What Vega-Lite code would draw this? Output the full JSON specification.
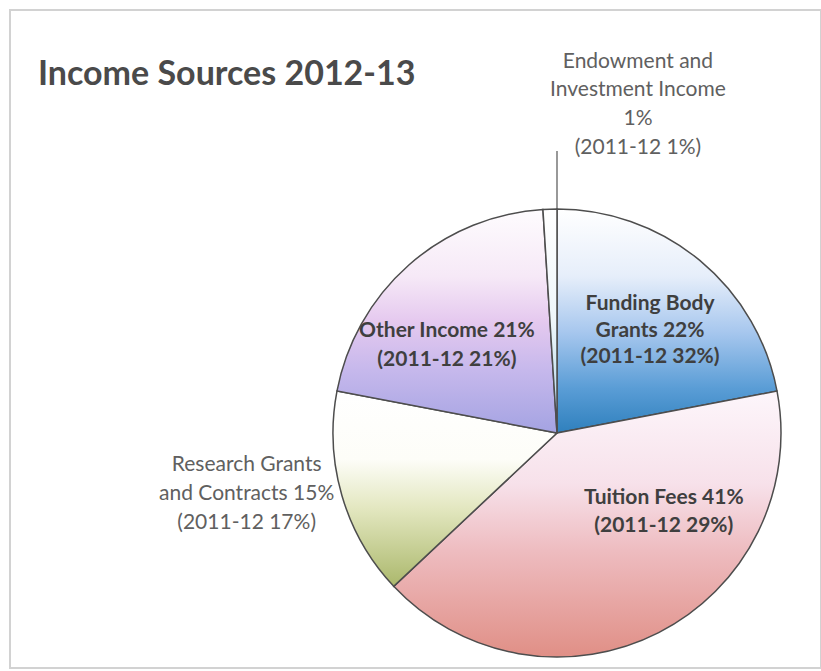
{
  "$schema": "https://vega.github.io/schema/vega-lite/v6.json",
  "width": 811,
  "height": 658,
  "autosize": {"type": "none"},
  "padding": {"left": 10, "top": 10, "right": 0, "bottom": 3},
  "background": "white",
  "view": {"stroke": "#d2d2d2", "strokeWidth": 2},
  "config": {"view": {"stroke": "#d2d2d2", "strokeWidth": 2}, "font": "Lato"},
  "title": {"text": "Income Sources 2012-13", "anchor": "start", "frame": "group", "orient": "top", "offset": -109, "dx": 28, "baseline": "alphabetic", "font": "Lato", "fontSize": 34, "fontWeight": "bold", "color": "#4a4a4a"},
  "data": {"values": [
    {"source": "Funding Body Grants", "pct": 22, "prev": 32, "order": 1, "label": "Funding Body\nGrants 22%\n(2011-12 32%)"},
    {"source": "Tuition Fees", "pct": 41, "prev": 29, "order": 2, "label": "Tuition Fees 41%\n(2011-12 29%)"},
    {"source": "Research Grants and Contracts", "pct": 15, "prev": 17, "order": 3, "label": "Research Grants\nand Contracts 15%\n(2011-12 17%)"},
    {"source": "Other Income", "pct": 21, "prev": 21, "order": 4, "label": "Other Income 21%\n(2011-12 21%)"},
    {"source": "Endowment and Investment Income", "pct": 1, "prev": 1, "order": 5, "label": "Endowment and\nInvestment Income\n1%\n(2011-12 1%)"}
  ]},
  "transform": [{"stack": "pct", "groupby": [], "sort": [{"field": "order"}], "as": ["start", "end"]}],
  "layer": [
    {
      "transform": [{"filter": "datum.source === 'Funding Body Grants'"}],
      "mark": {"type": "arc", "radius": 224, "xOffset": 141.5, "yOffset": 94, "stroke": "#4d4d4d", "strokeWidth": 1.5,
        "fill": {"gradient": "linear", "x1": 0, "y1": 0, "x2": 0, "y2": 1, "stops": [
          {"offset": 0, "color": "#ffffff"}, {"offset": 0.3, "color": "#e6eefa"}, {"offset": 0.55, "color": "#a7c7ee"}, {"offset": 0.8, "color": "#5a9dd6"}, {"offset": 1, "color": "#2f80bd"}]}},
      "encoding": {"theta": {"field": "start", "type": "quantitative", "scale": {"domain": [0, 100]}}, "theta2": {"field": "end"}}
    },
    {
      "transform": [{"filter": "datum.source === 'Tuition Fees'"}],
      "mark": {"type": "arc", "radius": 224, "xOffset": 141.5, "yOffset": 94, "stroke": "#4d4d4d", "strokeWidth": 1.5,
        "fill": {"gradient": "linear", "x1": 0, "y1": 0, "x2": 0, "y2": 1, "stops": [
          {"offset": 0, "color": "#fdf6fb"}, {"offset": 0.35, "color": "#f7e1ea"}, {"offset": 0.6, "color": "#eebcc0"}, {"offset": 1, "color": "#e08f86"}]}},
      "encoding": {"theta": {"field": "start", "type": "quantitative", "scale": {"domain": [0, 100]}}, "theta2": {"field": "end"}}
    },
    {
      "transform": [{"filter": "datum.source === 'Research Grants and Contracts'"}],
      "mark": {"type": "arc", "radius": 224, "xOffset": 141.5, "yOffset": 94, "stroke": "#4d4d4d", "strokeWidth": 1.5,
        "fill": {"gradient": "linear", "x1": 0, "y1": 0, "x2": 0, "y2": 1, "stops": [
          {"offset": 0, "color": "#ffffff"}, {"offset": 0.35, "color": "#fdfdf8"}, {"offset": 0.6, "color": "#e3e7c0"}, {"offset": 1, "color": "#abb86c"}]}},
      "encoding": {"theta": {"field": "start", "type": "quantitative", "scale": {"domain": [0, 100]}}, "theta2": {"field": "end"}}
    },
    {
      "transform": [{"filter": "datum.source === 'Other Income'"}],
      "mark": {"type": "arc", "radius": 224, "xOffset": 141.5, "yOffset": 94, "stroke": "#4d4d4d", "strokeWidth": 1.5,
        "fill": {"gradient": "linear", "x1": 0, "y1": 0, "x2": 0, "y2": 1, "stops": [
          {"offset": 0, "color": "#fefcfe"}, {"offset": 0.3, "color": "#f6e9f7"}, {"offset": 0.5, "color": "#e5c9ef"}, {"offset": 0.72, "color": "#c6b8ec"}, {"offset": 1, "color": "#a4a3e2"}]}},
      "encoding": {"theta": {"field": "start", "type": "quantitative", "scale": {"domain": [0, 100]}}, "theta2": {"field": "end"}}
    },
    {
      "transform": [{"filter": "datum.source === 'Endowment and Investment Income'"}],
      "mark": {"type": "arc", "radius": 224, "xOffset": 141.5, "yOffset": 94, "stroke": "#4d4d4d", "strokeWidth": 1.5,
        "fill": {"gradient": "linear", "x1": 0, "y1": 0, "x2": 0, "y2": 1, "stops": [
          {"offset": 0, "color": "#ffffff"}, {"offset": 0.5, "color": "#eef6fa"}, {"offset": 1, "color": "#a8d3e8"}]}},
      "encoding": {"theta": {"field": "start", "type": "quantitative", "scale": {"domain": [0, 100]}}, "theta2": {"field": "end"}}
    },
    {
      "transform": [{"filter": "datum.source === 'Endowment and Investment Income'"}],
      "mark": {"type": "arc", "radius": 282, "radius2": 224, "xOffset": 141.5, "yOffset": 94, "stroke": "#555555", "strokeWidth": 1.2, "fill": null},
      "encoding": {"theta": {"field": "end", "type": "quantitative", "scale": {"domain": [0, 100]}}, "theta2": {"field": "end"}}
    },
    {
      "transform": [{"filter": "datum.source === 'Funding Body Grants'"}],
      "mark": {"type": "text", "radius": 159, "thetaOffset": 0.625, "xOffset": 141.5, "yOffset": 94, "font": "Lato", "fontWeight": "bold", "fontSize": 21, "fill": "#3f3f3f", "lineBreak": "\n", "lineHeight": 26.5, "align": "center", "baseline": "middle"},
      "encoding": {"theta": {"field": "start", "type": "quantitative", "stack": null, "scale": {"domain": [0, 100]}}, "text": {"field": "label"}}
    },
    {
      "transform": [{"filter": "datum.source === 'Tuition Fees'"}],
      "mark": {"type": "text", "radius": 125, "thetaOffset": 0.735, "xOffset": 141.5, "yOffset": 94, "font": "Lato", "fontWeight": "bold", "fontSize": 21, "fill": "#3f3f3f", "lineBreak": "\n", "lineHeight": 28, "align": "center", "baseline": "middle"},
      "encoding": {"theta": {"field": "start", "type": "quantitative", "stack": null, "scale": {"domain": [0, 100]}}, "text": {"field": "label"}}
    },
    {
      "transform": [{"filter": "datum.source === 'Other Income'"}],
      "mark": {"type": "text", "radius": 150, "thetaOffset": 0.558, "xOffset": 141.5, "yOffset": 94, "font": "Lato", "fontWeight": "bold", "fontSize": 21, "fill": "#3f3f3f", "lineBreak": "\n", "lineHeight": 29, "align": "center", "baseline": "middle"},
      "encoding": {"theta": {"field": "start", "type": "quantitative", "stack": null, "scale": {"domain": [0, 100]}}, "text": {"field": "label"}}
    },
    {
      "transform": [{"filter": "datum.source === 'Research Grants and Contracts'"}],
      "mark": {"type": "text", "radius": 312, "thetaOffset": 0.651, "xOffset": 141.5, "yOffset": 94, "font": "Lato", "fontSize": 21, "fill": "#606060", "lineBreak": "\n", "lineHeight": 29, "align": "center", "baseline": "middle"},
      "encoding": {"theta": {"field": "start", "type": "quantitative", "stack": null, "scale": {"domain": [0, 100]}}, "text": {"field": "label"}}
    },
    {
      "transform": [{"filter": "datum.source === 'Endowment and Investment Income'"}],
      "mark": {"type": "text", "radius": 380, "thetaOffset": 0.2775, "xOffset": 141.5, "yOffset": 94, "font": "Lato", "fontSize": 21, "fill": "#606060", "lineBreak": "\n", "lineHeight": 28.7, "align": "center", "baseline": "middle"},
      "encoding": {"theta": {"field": "start", "type": "quantitative", "stack": null, "scale": {"domain": [0, 100]}}, "text": {"field": "label"}}
    }
  ]
}
